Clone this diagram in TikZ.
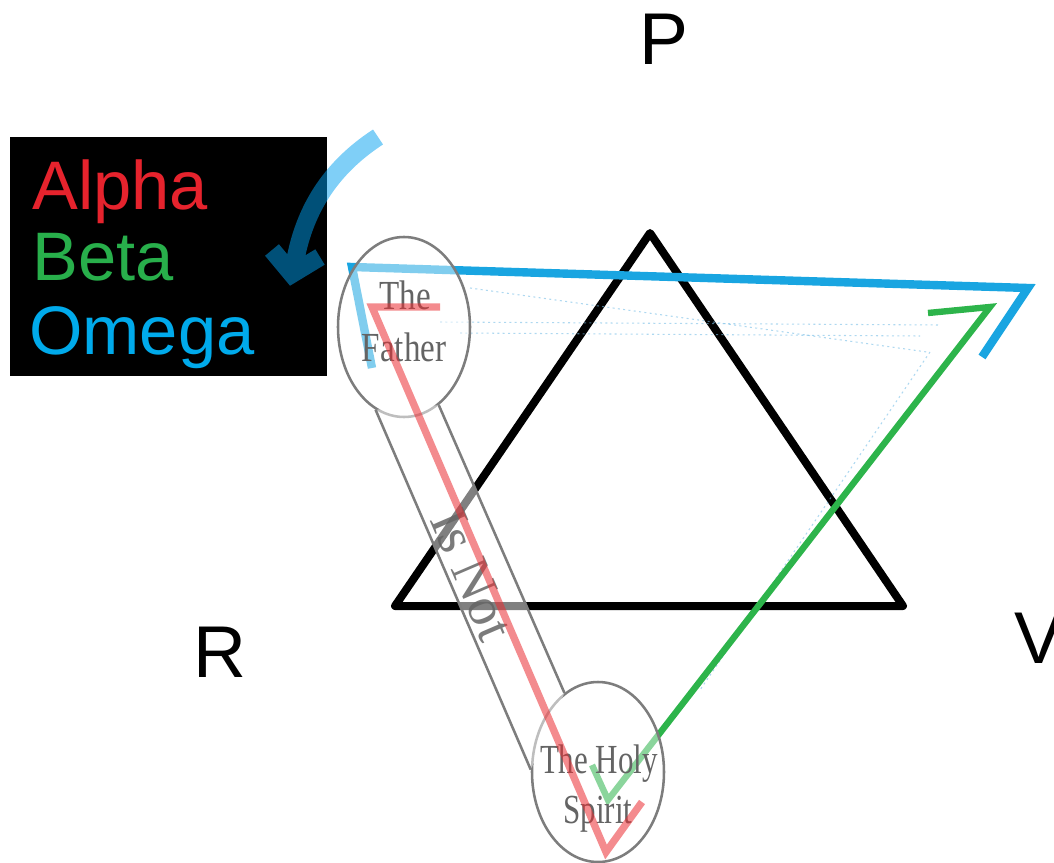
\documentclass[tikz,border=0pt]{standalone}
\usepackage{fontspec}
\usetikzlibrary{shapes.geometric}
\newfontfamily\arialf{Liberation Sans}
\newfontfamily\timesf{Liberation Serif}
\definecolor{tri}{RGB}{0,0,0}
\definecolor{redl}{RGB}{235,45,50}
\definecolor{greenl}{RGB}{45,180,75}
\definecolor{bluel}{RGB}{25,165,225}
\definecolor{legred}{RGB}{230,35,45}
\definecolor{leggreen}{RGB}{40,175,75}
\definecolor{legblue}{RGB}{0,170,235}
\definecolor{arrowc}{RGB}{0,160,240}
\definecolor{txtgray}{RGB}{100,100,100}
\definecolor{linegray}{RGB}{125,125,125}
\definecolor{faint}{RGB}{120,190,230}
\tikzset{
  bigletter/.style={font=\arialf\fontsize{55}{60}\selectfont, inner sep=0pt},
  legtext/.style={font=\arialf\fontsize{51.5}{56}\selectfont, inner sep=0pt, anchor=base west},
  persontext/.style={font=\timesf\fontsize{31}{34}\selectfont, text=txtgray, inner sep=0pt, anchor=base},
  personcirc/.style={ellipse, draw=linegray, line width=1.9pt, fill=white, fill opacity=0.45,
     minimum width=99pt, minimum height=135pt, inner sep=0pt},
  faintline/.style={faint, line width=0.8pt, dash pattern=on 1.5pt off 2.5pt, opacity=0.6},
}
\begin{document}
\begin{tikzpicture}[x=0.75pt,y=-0.75pt]
\useasboundingbox (0,0) rectangle (1054,863);
% labels
\node[bigletter, anchor=base] (P) at (664,65) {P};
\node[bigletter, anchor=base] (R) at (220,677) {R};
\node[bigletter, anchor=base west] (V) at (1014,663) {V};
% triangle
\coordinate (ta) at (650,233);
\coordinate (tl) at (395,606);
\coordinate (tr) at (903,606);
\draw[tri, line width=6pt, line join=round, line cap=round] (ta) -- (tl) -- (tr) -- cycle;
% faint dotted artefacts
\draw[faintline] (470,288) -- (927,352);
\draw[faintline] (440,322) -- (940,325);
\draw[faintline] (460,333) -- (920,336);
\draw[faintline] (930,352) -- (700,690);
% omega (blue)
\coordinate (b1) at (372,368);
\coordinate (b2) at (352,267);
\coordinate (b3) at (1028,288);
\coordinate (b4) at (982,357);
\draw[bluel, line width=6.3pt, line join=miter] (b1) -- (b2) -- (b3) -- (b4);
% beta (green)
\coordinate (g1) at (928,313);
\coordinate (g2) at (990,307);
\coordinate (g3) at (608,800);
\coordinate (g4) at (592,765);
\draw[greenl, line width=4.8pt, line join=miter] (g1) -- (g2) -- (g3) -- (g4);
% persons
\node[personcirc] (father) at (404,327) {};
\node[personcirc] (spirit) at (598,772) {};
% band "Is Not"
\fill[white, opacity=0.5] (father.251) -- (father.294) -- (spirit.113) -- (spirit.178) -- cycle;
\draw[linegray, line width=1.9pt] (father.251) -- (spirit.178);
\draw[linegray, line width=1.9pt] (father.294) -- (spirit.113);
\node[font=\timesf\fontsize{41}{44}\selectfont, text=txtgray, text opacity=0.85, rotate=-66.7, inner sep=0pt] (isnot) at (472,575) {Is Not};
\node[persontext, xscale=0.8] (the1) at (405,310) {The};
\node[persontext, xscale=0.8] (fath) at (404,361) {Father};
\node[persontext, xscale=0.75] (the2) at (599,773) {The Holy};
\node[persontext, xscale=0.75] (spir) at (598,823) {Spirit};
% alpha (red)
\coordinate (r1) at (440,307);
\coordinate (r2) at (372,307);
\coordinate (r3) at (606,852);
\coordinate (r4) at (642,802);
\draw[redl, line width=5.5pt, draw opacity=0.55, line join=miter] (r1) -- (r2) -- (r3) -- (r4);
% legend
\fill[black] (10,137) rectangle (327,376);
\node[legtext, text=legred] (alpha) at (32,210) {Alpha};
\node[legtext, text=leggreen] (beta) at (32,281) {Beta};
\node[legtext, text=legblue] (omega) at (29,354) {Omega};
% curved arrow
\draw[arrowc, draw opacity=0.5, line width=13.5pt, line join=miter]
  (378,137) .. controls (335,165) and (305,205) .. (295,262)
  (272,250) -- (292,274) -- (320,257);
\end{tikzpicture}
\end{document}
